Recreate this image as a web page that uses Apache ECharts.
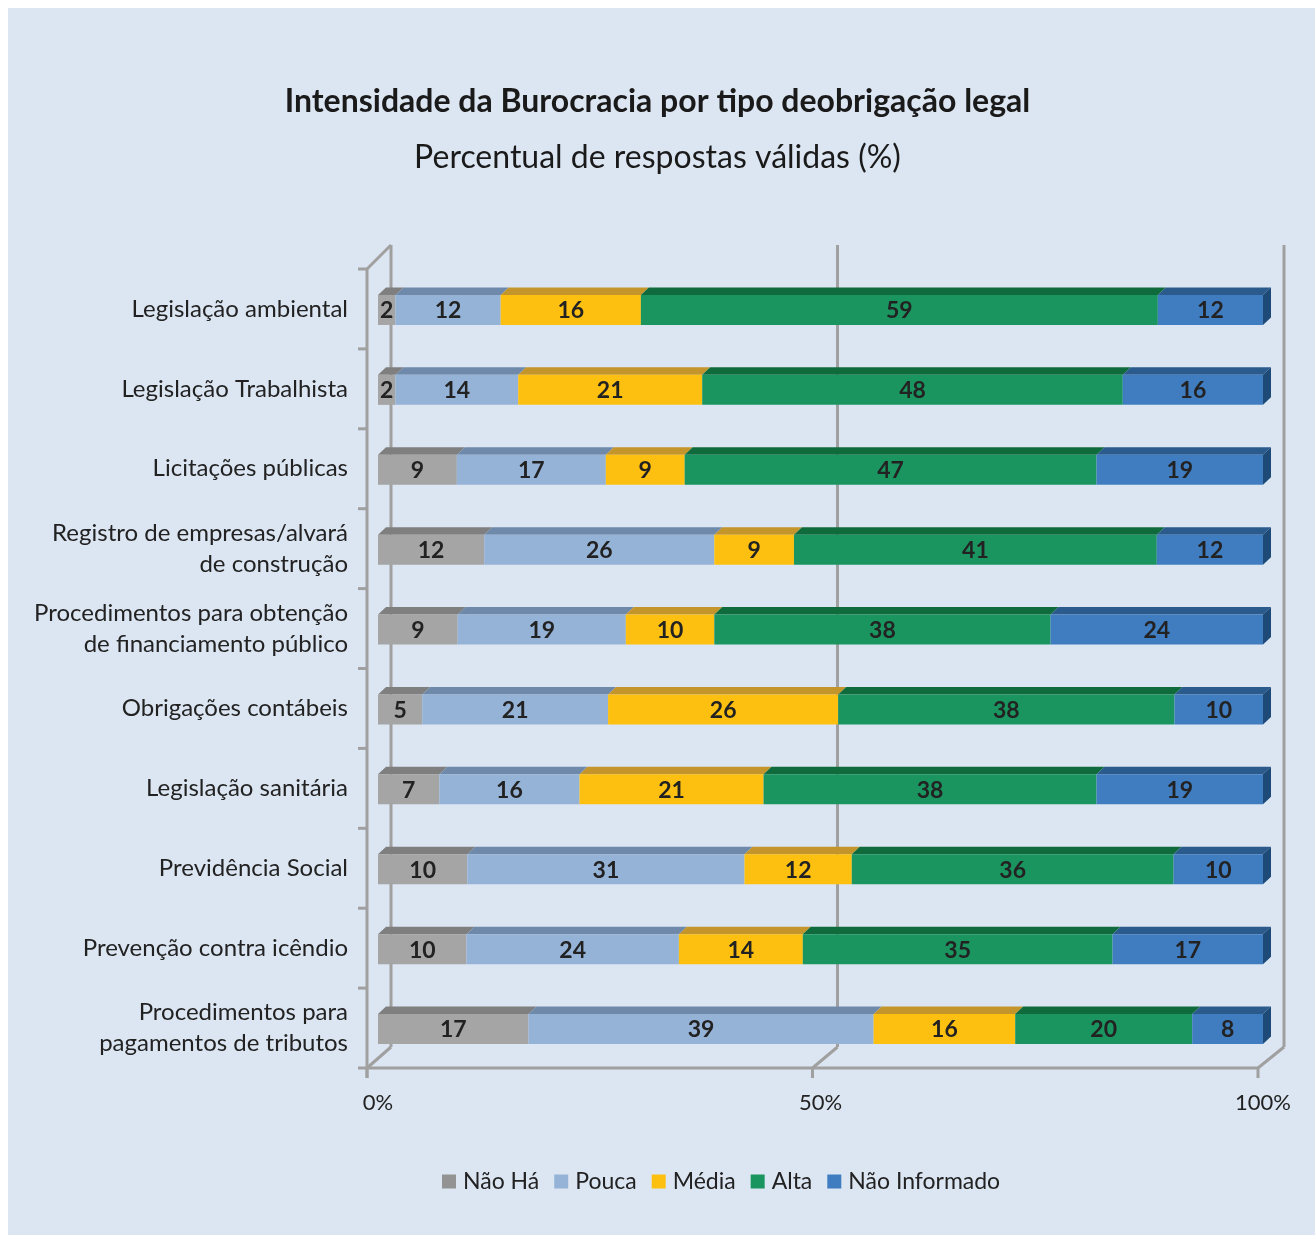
<!DOCTYPE html>
<html><head><meta charset="utf-8">
<script src="https://cdn.jsdelivr.net/npm/echarts@6/dist/echarts.min.js"></script>
<style>html,body{margin:0;padding:0;background:#fff}#c{width:1315px;height:1235px}</style>
</head><body><div id="c"></div>
<script>
const categories = [
  'Legislação ambiental',
  'Legislação Trabalhista',
  'Licitações públicas',
  'Registro de empresas/alvará\nde construção',
  'Procedimentos para obtenção\nde financiamento público',
  'Obrigações contábeis',
  'Legislação sanitária',
  'Previdência Social',
  'Prevenção contra icêndio',
  'Procedimentos para\npagamentos de tributos'
];
const naoHa        = [2, 2, 9, 12, 9, 5, 7, 10, 10, 17];
const pouca        = [12, 14, 17, 26, 19, 21, 16, 31, 24, 39];
const media        = [16, 21, 9, 9, 10, 26, 21, 12, 14, 16];
const alta         = [59, 48, 47, 41, 38, 38, 38, 36, 35, 20];
const naoInformado = [12, 16, 19, 12, 24, 10, 19, 10, 17, 8];
const tickLabels = ['0%', '50%', '100%'];
const tickValues = [0, 50, 100];

const seriesNames = ['Não Há', 'Pouca', 'Média', 'Alta', 'Não Informado'];
const seriesValues = [naoHa, pouca, media, alta, naoInformado];
const frontColors = ['#a5a5a5', '#95b3d7', '#fdc010', '#1b9560', '#3f7cc0'];
const topColors   = ['#7f7f7f', '#6f89ab', '#c4952a', '#0f6b3c', '#2a5b8c'];
const legendColors = ['#939393', '#95b3d7', '#fdc010', '#1b9560', '#3f7cc0'];
const sideColor = '#1d4a76';
const FONT = 'Lato, "Open Sans", sans-serif';

const G = {left: 378, top: 269, width: 885, height: 799};
const DX = 8, DY = 7.5, BAR_H = 30;

const totals = categories.map((_, i) => seriesValues.reduce((s, arr) => s + arr[i], 0));
const cum = categories.map(() => 0);
const seriesData = seriesValues.map(arr => arr.map((v, i) => {
  const s = cum[i] / totals[i] * 100;
  cum[i] += v;
  const e = cum[i] / totals[i] * 100;
  return [i, s, e, v];
}));

function makeRender(k) {
  return function (params, api) {
    const ci = api.value(0), s = api.value(1), e = api.value(2), v = api.value(3);
    const p0 = api.coord([s, ci]), p1 = api.coord([e, ci]);
    const x0 = p0[0], x1 = p1[0], yc = p0[1] + 1;
    const yt = yc - BAR_H / 2, yb = yc + BAR_H / 2;
    const children = [
      {type: 'polygon', shape: {points: [[x0, yt], [x0 + DX, yt - DY], [x1 + DX, yt - DY], [x1, yt]]},
       style: {fill: topColors[k]}},
      {type: 'rect', shape: {x: x0, y: yt, width: x1 - x0, height: BAR_H}, style: {fill: frontColors[k]}}
    ];
    if (k === seriesValues.length - 1) {
      children.push({type: 'polygon', shape: {points: [[x1, yt], [x1 + DX, yt - DY], [x1 + DX, yb - DY], [x1, yb]]},
        style: {fill: sideColor}});
    }
    children.push({type: 'text', x: (x0 + x1) / 2, y: yc + 1,
      style: {text: String(v), font: 'bold 23px ' + FONT, fill: '#222222',
              align: 'center', verticalAlign: 'middle', textAlign: 'center', textVerticalAlign: 'middle'}});
    return {type: 'group', children: children};
  };
}

// frame (3D walls) derived from grid layout
const frontX = p => G.left - 11 + p / 100 * (G.width + 6);
const backX = p => G.left + 13 + p / 100 * (G.width + 8);
const band = G.height / categories.length;
const yBottom = G.top + G.height;
const lineStyle = {stroke: '#a0a0a0', lineWidth: 3};
const frame = [];
frame.push({type: 'rect', shape: {x: 8, y: 8, width: 1315, height: 1235}, style: {fill: '#dce6f2'}, z: -10});
frame.push({type: 'line', shape: {x1: frontX(0), y1: G.top, x2: frontX(0), y2: yBottom + 10}, style: lineStyle});
frame.push({type: 'line', shape: {x1: frontX(0), y1: G.top, x2: backX(0), y2: G.top - 24}, style: lineStyle});
for (let i = 0; i <= categories.length; i++) {
  const y = G.top + i * band;
  frame.push({type: 'line', shape: {x1: frontX(0) - 9, y1: y, x2: frontX(0), y2: y}, style: lineStyle});
}
frame.push({type: 'line', shape: {x1: frontX(0), y1: yBottom, x2: frontX(100), y2: yBottom}, style: lineStyle});
tickValues.forEach(p => {
  frame.push({type: 'line', shape: {x1: backX(p), y1: G.top - 24, x2: backX(p), y2: yBottom - 21}, style: lineStyle});
  frame.push({type: 'line', shape: {x1: frontX(p), y1: yBottom, x2: backX(p), y2: yBottom - 21}, style: lineStyle});
  frame.push({type: 'line', shape: {x1: frontX(p), y1: yBottom, x2: frontX(p), y2: yBottom + 10}, style: lineStyle});
});

const chart = echarts.init(document.getElementById('c'), null, {renderer: 'canvas'});
chart.setOption({
  backgroundColor: '#ffffff',
  animation: false,
  title: [
    {text: 'Intensidade da Burocracia por tipo deobrigação legal', left: 'center', top: 81,
     textStyle: {fontFamily: FONT, fontSize: 32, fontWeight: 'bold', color: '#1a1a1a'}},
    {text: 'Percentual de respostas válidas (%)', left: 'center', top: 137,
     textStyle: {fontFamily: FONT, fontSize: 32, fontWeight: 'normal', color: '#1a1a1a'}}
  ],
  graphic: {elements: frame.map(el => Object.assign({z: el.z !== undefined ? el.z : -5, silent: true}, el))},
  legend: {
    left: 437, top: 1165, itemWidth: 14, itemHeight: 14, itemGap: 15, icon: 'rect',
    textStyle: {fontFamily: FONT, fontSize: 23, color: '#222222', padding: [0, 0, 0, 2]},
    data: seriesNames
  },
  grid: {left: G.left, top: G.top, width: G.width, height: G.height, containLabel: false},
  xAxis: {
    type: 'value', min: 0, max: 100, interval: 50,
    axisLine: {show: false}, axisTick: {show: false}, splitLine: {show: false},
    axisLabel: {margin: 24, fontFamily: FONT, fontSize: 22, color: '#222222',
      formatter: v => tickLabels[tickValues.indexOf(v)] || ''}
  },
  yAxis: {
    type: 'category', data: categories, inverse: true,
    axisLine: {show: false}, axisTick: {show: false},
    axisLabel: {margin: 30, fontFamily: FONT, fontSize: 24, color: '#222222', lineHeight: 31, align: 'right'}
  },
  series: seriesNames.map((name, k) => ({
    type: 'custom', name: name, z: 5,
    itemStyle: {color: legendColors[k]},
    encode: {x: [1, 2], y: 0},
    renderItem: makeRender(k),
    data: seriesData[k]
  }))
});
</script></body></html>
